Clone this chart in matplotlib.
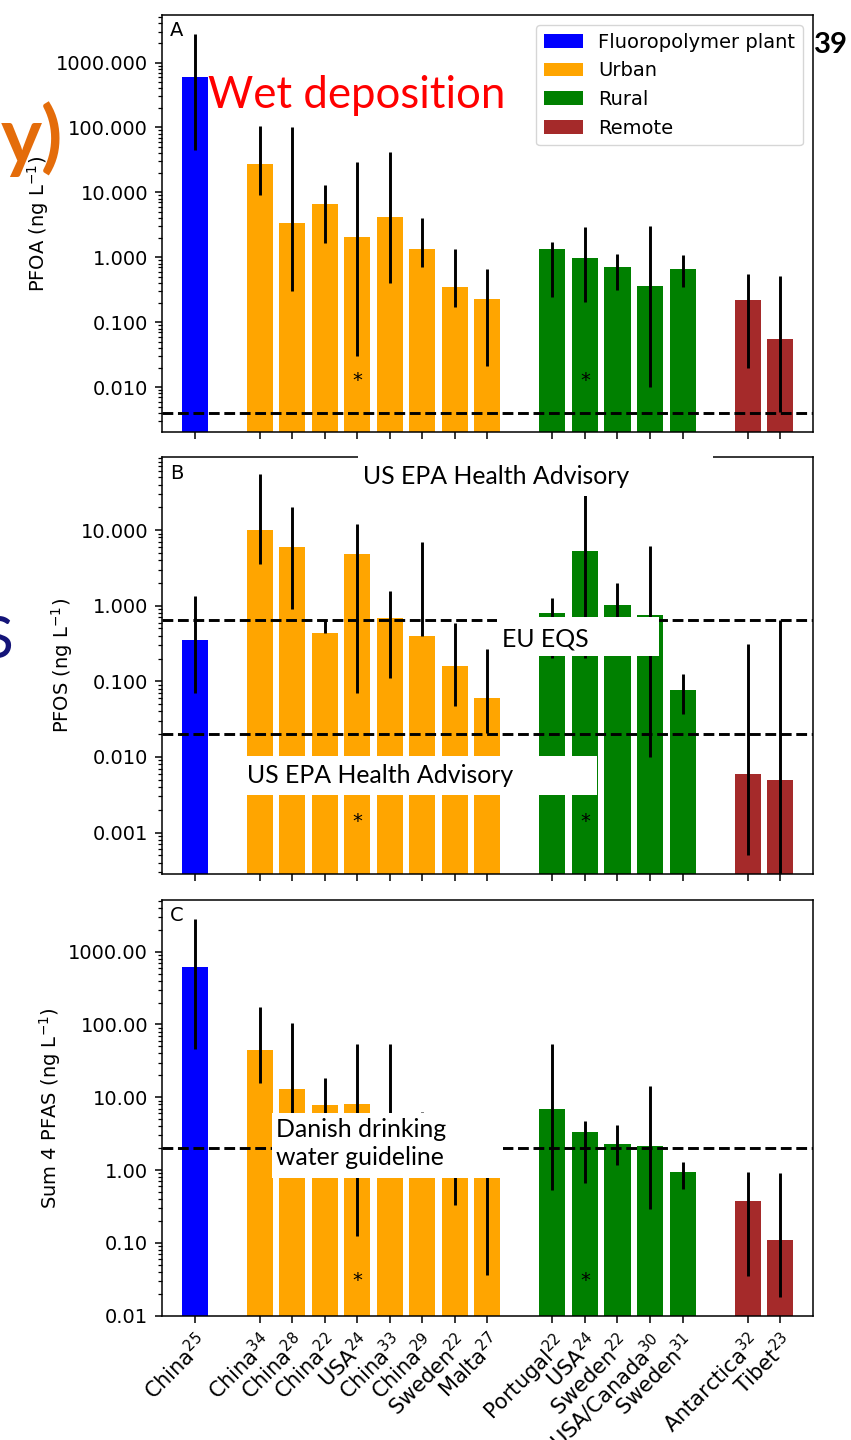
import matplotlib
matplotlib.use('Agg')
import matplotlib.pyplot as plt
from matplotlib.patches import Rectangle
from matplotlib.ticker import FormatStrFormatter, LogLocator

# sampling sites (x axis) and reference numbers
sites = ['China', 'China', 'China', 'China', 'USA', 'China', 'China', 'Sweden', 'Malta',
         'Portugal', 'USA', 'Sweden', 'USA/Canada', 'Sweden', 'Antarctica', 'Tibet']
refs = [25, 34, 28, 22, 24, 33, 29, 22, 27, 22, 24, 22, 30, 31, 32, 23]
site_type = ['Fluoropolymer plant'] + ['Urban'] * 8 + ['Rural'] * 5 + ['Remote'] * 2
type_colors = {'Fluoropolymer plant': 'blue', 'Urban': 'orange',
               'Rural': 'green', 'Remote': 'brown'}
starred = [4, 10]  # USA24 (urban, rural)

# A: PFOA (ng/L) - mean, lower, upper
pfoa = [608, 27.5, 3.4, 6.7, 2.09, 4.2, 1.35, 0.347, 0.229, 1.32, 0.99, 0.71, 0.36, 0.65, 0.219, 0.055]
pfoa_lo = [45, 9.2, 0.30, 1.65, 0.030, 0.40, 0.72, 0.17, 0.0213, 0.243, 0.204, 0.31, 0.010, 0.355, 0.020, 0.0041]
pfoa_hi = [2740, 106, 100, 12.9, 29.5, 41.7, 4.0, 1.36, 0.67, 1.71, 2.98, 1.13, 3.05, 1.08, 0.55, 0.51]

# B: PFOS (ng/L)
pfos = [0.35, 10, 6.05, 0.44, 4.9, 0.68, 0.40, 0.159, 0.060, 0.79, 5.35, 1.02, 0.75, 0.077, 0.006, 0.005]
pfos_lo = [0.070, 3.56, 0.90, 0.43, 0.070, 0.111, 0.40, 0.0476, 0.021, 0.204, 0.204, 0.55, 0.010, 0.037, 0.0005, 0.0001]
pfos_hi = [1.35, 55, 20.2, 0.65, 12.1, 1.57, 7.0, 0.60, 0.271, 1.26, 30.0, 1.99, 6.2, 0.126, 0.309, 0.65]

# C: sum of 4 PFAS (ng/L)
sum4 = [622, 44.7, 12.9, 7.8, 8.0, 4.0, 2.0, 1.5, 1.0, 7.0, 3.38, 2.27, 2.15, 0.94, 0.378, 0.110]
sum4_lo = [46, 15.9, 1.5, 3.0, 0.125, 1.2, 1.0, 0.33, 0.0366, 0.536, 0.675, 1.18, 0.29, 0.55, 0.0354, 0.018]
sum4_hi = [2790, 176, 104, 18.3, 53.6, 53.6, 6.3, 4.0, 5.0, 54, 4.7, 4.2, 14.4, 1.30, 0.946, 0.91]

W, H = 851, 1440


def fx(x):
    return x / W


def fy(y):
    return 1 - y / H


def white_box(fig, x0, y0, x1, y1):
    fig.add_artist(Rectangle((fx(x0), fy(y1)), fx(x1) - fx(x0), fy(y0) - fy(y1),
                             transform=fig.transFigure, facecolor='white',
                             edgecolor='none', zorder=5))


# x positions: one empty slot between site types
xpos = []
gap = 0
for i, t in enumerate(site_type):
    if i > 0 and t != site_type[i - 1]:
        gap += 1
    xpos.append(i + gap)

fig = plt.figure(figsize=(W / 100, H / 100), dpi=100)

panels = [
    # letter, (left, top, right, bottom) px, values, lo, hi, ylabel, fmt, ylim, guidelines, star y
    ('A', (162, 15, 812.7, 432), pfoa, pfoa_lo, pfoa_hi, 'PFOA (ng L$^{-1}$)', '%.3f',
     (0.00204, 5400), [0.004], 0.0125),
    ('B', (162, 457.3, 812.7, 874.3), pfos, pfos_lo, pfos_hi, 'PFOS (ng L$^{-1}$)', '%.3f',
     (0.00028, 92), [0.65, 0.02], 0.0014),
    ('C', (162, 900, 812.7, 1316), sum4, sum4_lo, sum4_hi, 'Sum 4 PFAS (ng L$^{-1}$)', '%.2f',
     (0.0099, 5130), [2.0], 0.030),
]

for letter, rect, vals, lo, hi, ylab, fmt, ylim, guides, star_y in panels:
    l, t, r, b = rect
    ax = fig.add_axes([fx(l), fy(b), fx(r) - fx(l), fy(t) - fy(b)])
    ax.set_yscale('log')
    for typ, col in type_colors.items():
        idx = [i for i, s in enumerate(site_type) if s == typ]
        ax.bar([xpos[i] for i in idx], [vals[i] for i in idx], width=0.8, color=col, label=typ,
               yerr=[[vals[i] - lo[i] for i in idx], [hi[i] - vals[i] for i in idx]],
               error_kw=dict(ecolor='black', elinewidth=2.1, capsize=0, zorder=3))
    for g in guides:
        ax.axhline(g, color='black', ls='--', lw=2.1, zorder=4)
    for i in starred:
        ax.text(xpos[i], star_y, '*', ha='center', va='center', fontsize=14)
    ax.set_xlim(-1, 19)
    ax.set_ylim(*ylim)
    ax.yaxis.set_major_locator(LogLocator(base=10, numticks=15))
    ax.yaxis.set_major_formatter(FormatStrFormatter(fmt))
    ax.set_ylabel(ylab, fontsize=14)
    ax.set_xticks(xpos)
    if letter == 'C':
        ax.set_xticklabels([f'{s}$^{{{n}}}$' for s, n in zip(sites, refs)],
                           rotation=45, ha='right', rotation_mode='anchor', fontsize=15)
    else:
        ax.tick_params(labelbottom=False)
    ax.tick_params(axis='y', which='major', labelsize=14)
    ax.tick_params(which='major', length=5, width=1.1, pad=4.9)
    ax.tick_params(which='minor', length=2.8, width=0.9)
    for sp in ax.spines.values():
        sp.set_linewidth(1.1)
    ax.text(0.012, 0.985, letter, transform=ax.transAxes, ha='left', va='top', fontsize=14)
    if letter == 'A':
        ax.legend(loc='upper right', fontsize=14)

# slide overlays
fig.text(fx(208), fy(108.3), 'Wet deposition', color='red', fontsize=31.5, family='Lato',
         va='baseline', zorder=6)
fig.text(fx(63), fy(163), 'y)', color='#E46C0A', fontsize=56, fontweight='bold', family='Lato',
         ha='right', va='baseline', zorder=6)
fig.text(fx(13), fy(658), 'S', color='#141478', fontsize=42, family='Lato',
         ha='right', va='baseline', zorder=6)
fig.text(fx(814), fy(53), '39', color='black', fontsize=21, fontweight='bold', family='Lato',
         ha='left', va='baseline', zorder=6)

white_box(fig, 358, 455.7, 713, 496)
fig.text(fx(362.7), fy(484.3), 'US EPA Health Advisory', fontsize=17.9, family='Lato',
         va='baseline', zorder=6)
white_box(fig, 497.3, 616.7, 659, 656)
fig.text(fx(501.7), fy(646), 'EU EQS', fontsize=17.9, family='Lato', va='baseline', zorder=6)
white_box(fig, 240, 755.7, 596.7, 795)
fig.text(fx(247), fy(783.3), 'US EPA Health Advisory', fontsize=17.9, family='Lato',
         va='baseline', zorder=6)
white_box(fig, 271.7, 1113.3, 503, 1177.7)
fig.text(fx(276), fy(1136.7), 'Danish drinking', fontsize=17.9, family='Lato',
         va='baseline', zorder=6)
fig.text(fx(276), fy(1165), 'water guideline', fontsize=17.9, family='Lato',
         va='baseline', zorder=6)

fig.savefig('out.png', dpi=100)
